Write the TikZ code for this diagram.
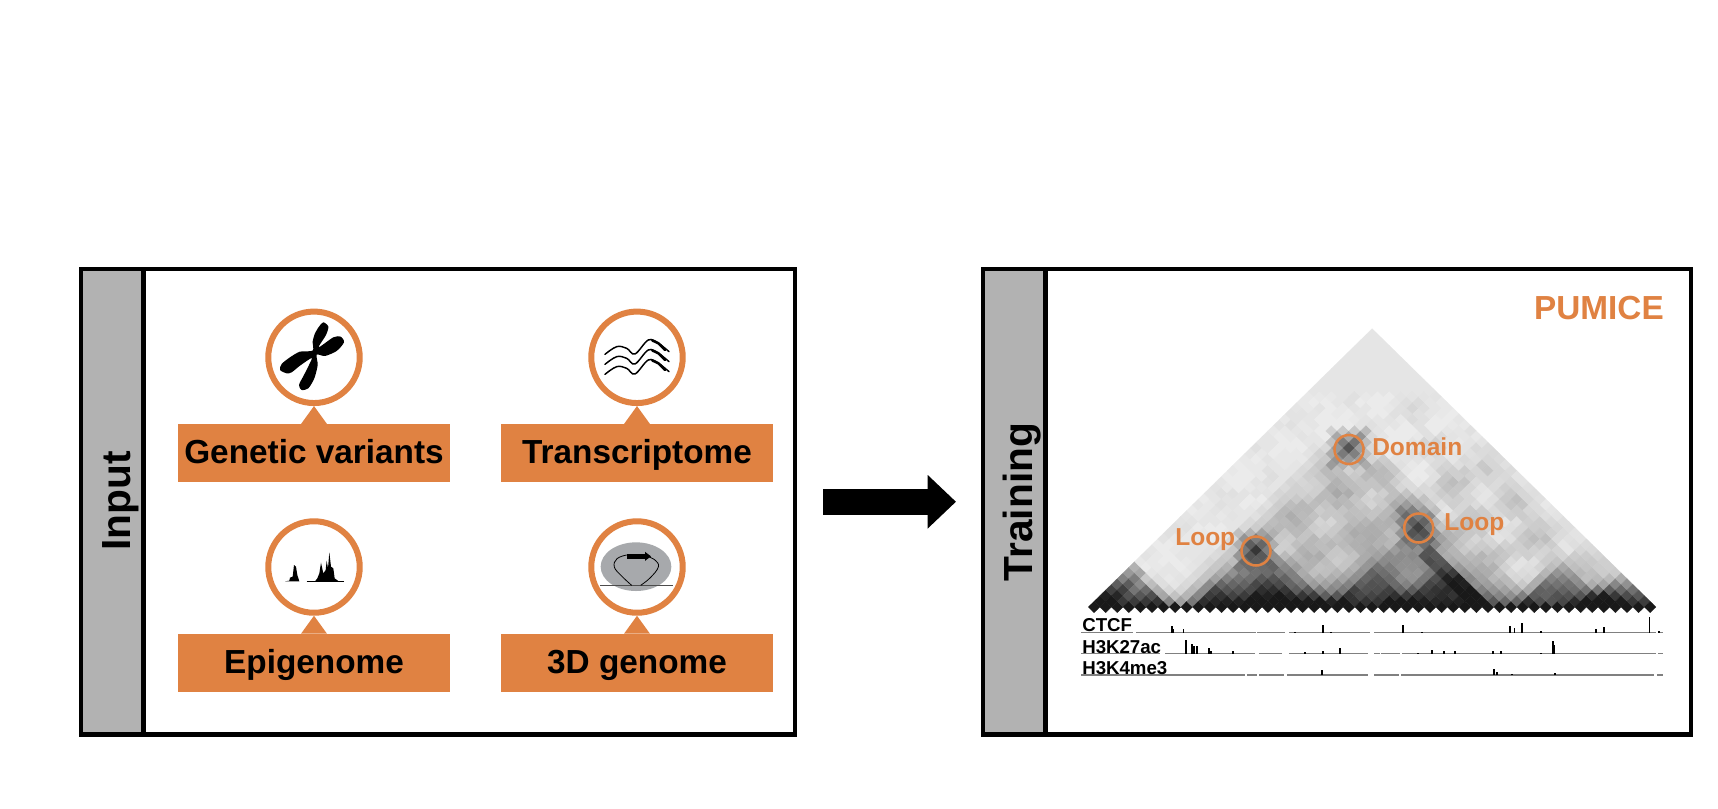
\documentclass[tikz,border=0pt]{standalone}
\usepackage{fontspec}
\setmainfont{Liberation Sans}
\usepackage{xcolor}
\usetikzlibrary{arrows.meta, positioning, calc}
\definecolor{markorange}{HTML}{E08242}
\definecolor{stripgray}{HTML}{B2B2B2}
\definecolor{nucleusgray}{HTML}{A7A9AC}
\tikzset{
    panel/.style={
        rectangle,
        draw=black,
        line width=3.2pt,
        outer sep=0pt,
        minimum height=349.1pt,
        fill=white
    },
    strip/.style={
        panel,
        minimum width=46.9pt,
        fill=stripgray
    },
    striptitle/.style={
        rotate=90,
        anchor=base,
        inner sep=0pt,
        font=\fontsize{30.5}{30.5}\selectfont\bfseries
    },
    iconring/.style={
        circle,
        draw=markorange,
        line width=4.5pt,
        minimum size=68.6pt,
        inner sep=0pt,
        fill=white
    },
    omicslabel/.style={
        rectangle,
        fill=markorange,
        outer sep=0pt,
        minimum width=204.2pt,
        minimum height=43.7pt,
        text height=16pt,
        text depth=0pt,
        font=\fontsize{25}{25}\selectfont\bfseries
    },
    bigarrow/.style={
        draw=black,
        line width=19.5pt,
        -{Triangle[length=21.2pt,width=38.8pt]},
        shorten <=21pt,
        shorten >=20.25pt
    },
    hicring/.style={
        circle,
        draw=markorange,
        line width=1.9pt,
        minimum size=21.75pt,
        inner sep=0pt
    },
    hictext/.style={
        anchor=base west,
        inner sep=0pt,
        text=markorange,
        font=\fontsize{18.4}{18.4}\selectfont\bfseries
    },
    tracktext/.style={
        anchor=base west,
        inner sep=0pt,
        font=\fontsize{14}{14}\selectfont\bfseries
    },
    trackline/.style={
        draw=gray,
        line width=0.8pt
    },
    trackpeak/.style={
        draw=black,
        line width=1.2pt
    }
}

\begin{document}
\begin{tikzpicture}[x=0.75pt, y=-0.75pt,
    declare function={
        near(\lo,\hi,\m,\n)=max(0,1-(max(0,\lo-\m)+max(0,\n-\hi))/3);
        tad(\lo,\hi,\m,\n,\s)=\s*max(0,1-(\n-\m)/(\hi-\lo+1))*near(\lo,\hi,\m,\n)*near(\lo,\hi,\m,\n);
        flat(\lo,\hi,\m,\n,\s)=\s*near(\lo,\hi,\m,\n);
        spot(\u,\v,\m,\n,\s)=\s*max(0,1-(abs(\m-\u)+abs(\n-\v))/4);
        mottle(\m,\n)=sin(41*\m+17*\n)*cos(23*\m-37*\n);
        hictone(\m,\n)=10
            +flat(8,36,\m,\n,15)+flat(19,46,\m,\n,8)
            +flat(8,10,\m,\n,8)
            +flat(33,36,\m,\n,7)
            +tad(0,6,\m,\n,80)+((\m<=1 && \n<=7) ? 20 : 0)
            +tad(9,20,\m,\n,56)+tad(13,18,\m,\n,25)
            +tad(21,34,\m,\n,28)+tad(21,27,\m,\n,32)+tad(27,34,\m,\n,32)
            +((\n>=33 && \n<=34 && \m>=24) ? 22 : 0)
            +tad(37,44,\m,\n,50)+tad(43,48,\m,\n,62)+tad(37,48,\m,\n,14)
            +spot(9,19,\m,\n,40)+spot(21,35,\m,\n,42)+spot(8,36,\m,\n,42);
    }]
\useasboundingbox (0,0) rectangle (1718,808);
\pgfmathsetseed{2718}

% Input panel (left)
\node[panel, minimum width=535.5pt] (input_box) at (438,501.75) {};
\node[strip, anchor=west] (input_strip) at (input_box.west) {};
\node[striptitle] (input_title) at (130,501) {Input};

% Training panel (right)
\node[panel, minimum width=531pt] (train_box) at (1337,501.75) {};
\node[strip, anchor=west] (train_strip) at (train_box.west) {};
\node[striptitle] (train_title) at (1032,502) {Training};

\draw[bigarrow] (input_box.east) -- (train_box.west);

% Icon rings and their labels
\node[iconring] (gv_ring) at (314,357.3) {};
\node[iconring] (tr_ring) at (637,357.3) {};
\node[iconring] (eg_ring) at (314,567) {};
\node[iconring] (gn_ring) at (637,567) {};
\node[omicslabel, below=13.5pt of gv_ring] (gv_label) {Genetic variants};
\node[omicslabel, below=13.5pt of tr_ring] (tr_label) {Transcriptome};
\node[omicslabel, below=13.5pt of eg_ring] (eg_label) {Epigenome};
\node[omicslabel, below=13.5pt of gn_ring] (gn_label) {3D genome};
\foreach \nm in {gv,tr,eg,gn}{
    \fill[markorange] (\nm_ring.south) -- ([xshift=-9.75pt]\nm_label.north) -- ([xshift=9.75pt]\nm_label.north) -- cycle;
}

% Chromosome
\begin{scope}[shift={(gv_ring.center)}, x=0.25pt, y=-0.25pt]
\fill[black] plot[smooth cycle, tension=0.45] coordinates {(43,-92) (36,-67) (14,-30) (58,-60) (80,-62) (90,-45) (68,-19) (33,-4) (8,-8) (11,23) (1,63) (-17,93) (-37,98) (-45,83) (-30,53) (-15,23) (-7,2) (-42,25) (-67,45) (-82,48) (-102,38) (-97,20) (-72,0) (-42,-17) (-4,-20) (-4,-47) (3,-72) (15,-92) (28,-105)};
\end{scope}

% Transcripts
\begin{scope}[shift={(tr_ring.center)}, x=0.25pt, y=-0.25pt]
\foreach \dy in {0,30,60}{
    \draw[black, line width=1.1pt, line cap=round] plot[smooth, tension=0.6] coordinates {(-96,-9+\dy) (-61,-32+\dy) (-31,-27+\dy) (-6,-10+\dy) (34,-52+\dy) (64,-42+\dy) (96,-17+\dy)};
    \draw[black, line width=1.9pt, line cap=round] plot[smooth, tension=0.6] coordinates {(46,-50+\dy) (64,-42+\dy) (84,-22+\dy)};
}
\end{scope}

% Epigenome peaks
\begin{scope}[shift={(eg_ring.center)}, x=0.25pt, y=-0.25pt]
\fill[black] (-87,43) -- (-74,41) -- (-72,32) -- (-64,29) -- (-60,-6) -- (-54,-1) -- (-50,24) -- (-44,43) -- cycle;
\fill[black] (3,43) -- (10,34) -- (16,19) -- (21,-13) -- (28,19) -- (35,9) -- (38,-19) -- (42,4) -- (46,-44) -- (51,-1) -- (58,4) -- (62,34) -- (73,42) -- (90,43) -- cycle;
\draw[black, line width=0.3pt] (-22,43) -- (90,43);
\end{scope}

% Promoter loop in the nucleus
\begin{scope}[shift={(gn_ring.center)}, x=0.25pt, y=-0.25pt]
\fill[nucleusgray] (-3,-1) ellipse (106 and 73);
\draw[black!70, line width=0.6pt] (-111,55) -- (109,55);
\draw[black, line width=0.6pt] plot[smooth, tension=0.7] coordinates {(-16,55) (-45,28) (-68,0) (-60,-25) (-31,-36)};
\draw[black, line width=0.6pt] plot[smooth, tension=0.7] coordinates {(11,55) (40,32) (64,0) (55,-20) (34,-31)};
\draw[black, line width=4.25pt, -{Triangle[length=4.5pt,width=6.5pt]}] (-31,-32) -- (42,-32);
\end{scope}

% Contact map
\foreach \i in {0,...,48}{
    \foreach \j in {\i,...,48}{
        \pgfmathtruncatemacro{\tone}{max(8,min(90,(\j==\i) ? 90 : hictone(\i,\j)+(\j-\i<38 ? 1 : 0)*(((\i>=8 && \j<=46) ? 7 : 2)*mottle(\i,\j)+((\i>=8 && \j<=46) ? 6 : 3)*(rnd-0.5))))}
        \pgfmathsetmacro{\cx}{1088.3+(\i+\j+1)*5.7925}
        \pgfmathsetmacro{\cy}{612.7-(\j-\i+1)*5.68}
        \filldraw[draw=black!\tone!white, fill=black!\tone!white, line width=0.15pt] (\cx,\cy) +(-5.7925,0) -- +(0,-5.68) -- +(5.7925,0) -- +(0,5.68) -- cycle;
    }
}

% Map annotations
\node[hicring] (domain_ring) at (1349,449.5) {};
\node[hicring] (loop_ring_a) at (1256,551) {};
\node[hicring] (loop_ring_b) at (1418.7,528) {};
\node[hictext] (domain_text) at (1372,455) {Domain};
\node[hictext] (loop_text_a) at (1175,545.7) {Loop};
\node[hictext] (loop_text_b) at (1444,530) {Loop};
\node[anchor=east, inner sep=0pt, text=markorange, font=\fontsize{25}{25}\selectfont\bfseries] (method_name) at (1664,308) {PUMICE};

% Signal tracks
\foreach \from/\to in {1081/1133,1136/1256,1257/1285,1289/1370,1374/1656,1658/1663}{
    \draw[trackline] (\from,632.5) -- (\to,632.5);
}
\foreach \from/\to in {1081/1160,1165/1255,1259/1282,1289/1368,1374/1380,1381/1400,1402/1656,1658/1663}{
    \draw[trackline] (\from,653.5) -- (\to,653.5);
}
\foreach \from/\to in {1081/1245,1247/1257,1259/1284,1287/1368,1374/1399,1401/1654,1657/1663}{
    \draw[trackline] (\from,675) -- (\to,675);
}
\foreach \px/\ph in {1171.7/7,1173.3/4,1183.3/3.3,1295/1,1323/8,1331/1,1402.7/8,1422/1,1510/7,1514.3/5,1521.7/10,1541/2,1596/4,1604/6,1649.3/16,1659/2}{
    \draw[trackpeak] (\px,632.5) -- ++(0,-\ph);
}
\foreach \px/\ph in {1186/14,1192/10,1194/8,1197/8,1209/6,1211/3,1233/3,1305/2,1323/3,1340/6,1418/1,1432/4,1444/3,1455/3,1493/3,1501/3,1541/1,1553/13,1554/9}{
    \draw[trackpeak] (\px,653.5) -- ++(0,-\ph);
}
\foreach \px/\ph in {1322/5,1494/6,1497/3,1512/1.5,1555/2.5}{
    \draw[trackpeak] (\px,675) -- ++(0,-\ph);
}
\node[tracktext] (ctcf_text) at (1082,631) {CTCF};
\node[tracktext] (h3k27ac_text) at (1082,653) {H3K27ac};
\node[tracktext] (h3k4me3_text) at (1082,674.3) {H3K4me3};

\end{tikzpicture}
\end{document}
